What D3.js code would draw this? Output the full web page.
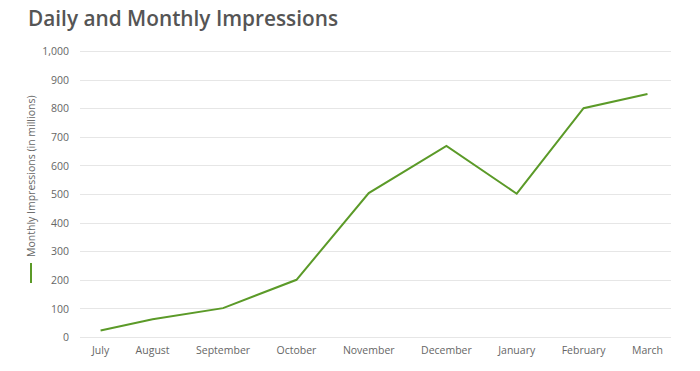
<!DOCTYPE html>
<html>
<head>
<meta charset="utf-8">
<script src="https://cdn.jsdelivr.net/npm/d3@7"></script>
<style>
  body { margin: 0; background: #fff; font-family: 'Open Sans', sans-serif; }
  svg text { fill: #666; }
  .grid line { stroke: #e6e6e6; }
</style>
</head>
<body>
<svg></svg>
<script>
var width = 700;
var height = 371;

var months = ['July', 'August', 'September', 'October', 'November', 'December', 'January', 'February', 'March'];
var impressions = [23, 62, 101, 200, 503, 668, 501, 800, 850];
var yTicks = [0, 100, 200, 300, 400, 500, 600, 700, 800, 900, 1000];

var margin = {top: 51, right: 29, bottom: 34, left: 80};

var svg = d3.select('svg')
    .attr('width', width)
    .attr('height', height);

var y = d3.scaleLinear()
    .domain([0, 1000])
    .range([height - margin.bottom, margin.top]);

svg.append('text')
    .attr('x', 28)
    .attr('y', 26)
    .style('font-size', '20.8px')
    .style('font-weight', 600)
    .style('fill', '#555')
    .text('Daily and Monthly Impressions');

svg.append('g')
    .attr('class', 'grid')
    .selectAll('line')
    .data(yTicks)
    .enter().append('line')
    .attr('x1', margin.left)
    .attr('x2', width - margin.right)
    .attr('y1', function(d) { return Math.round(y(d)) + 0.5; })
    .attr('y2', function(d) { return Math.round(y(d)) + 0.5; });

var yAxis = svg.append('g')
    .attr('transform', 'translate(' + (margin.left - 11) + ',0)')
    .call(d3.axisLeft(y).tickValues(yTicks).tickSize(0).tickFormat(d3.format(',')));
yAxis.select('.domain').remove();
yAxis.selectAll('text')
    .attr('x', 0)
    .attr('dy', '0.35em')
    .style('font-size', '10.5px')
    .style('font-family', 'Open Sans, sans-serif')
    .style('fill', '#666');

// month labels are spread with equal gaps between them, points sit at their centres
var labelLeft = margin.left + 12;
var labelRight = width - margin.right - 8;

var xLabels = svg.append('g')
    .selectAll('text')
    .data(months)
    .enter().append('text')
    .attr('y', height - margin.bottom + 10)
    .attr('dy', '0.71em')
    .attr('text-anchor', 'middle')
    .style('font-size', '10.5px')
    .style('fill', '#666')
    .text(function(d) { return d; });

var widths = [];
xLabels.each(function() { widths.push(this.getComputedTextLength()); });
var gap = (labelRight - labelLeft - d3.sum(widths)) / (months.length - 1);
var centres = [];
var cursor = labelLeft;
widths.forEach(function(w) {
    centres.push(cursor + w / 2);
    cursor += w + gap;
});

var x = d3.scaleOrdinal()
    .domain(months)
    .range(centres);

xLabels.attr('x', function(d) { return x(d); });

var line = d3.line()
    .x(function(d, i) { return x(months[i]); })
    .y(function(d) { return y(d); });

svg.append('path')
    .datum(impressions)
    .attr('fill', 'none')
    .attr('stroke', '#5b9a28')
    .attr('stroke-width', 2)
    .attr('d', line);

// legend
svg.append('line')
    .attr('x1', 31).attr('x2', 31)
    .attr('y1', 263).attr('y2', 283)
    .attr('stroke', '#5b9a28')
    .attr('stroke-width', 2);

svg.append('text')
    .attr('transform', 'translate(35,257) rotate(-90)')
    .style('font-size', '10.5px')
    .style('fill', '#666')
    .text('Monthly Impressions (in millions)');
</script>
</body>
</html>
